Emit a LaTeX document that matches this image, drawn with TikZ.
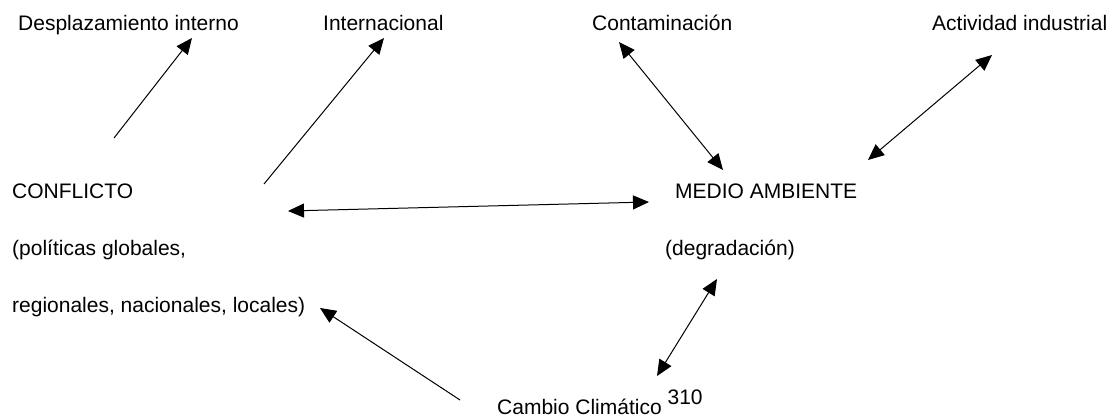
\documentclass[tikz,border=0pt]{standalone}
\usepackage{fontspec}
\setmainfont{Liberation Sans}
\usetikzlibrary{arrows.meta}

\begin{document}
\begin{tikzpicture}[x=1pt,y=-1pt,
	lbl/.style={anchor=base west,inner sep=0pt,font=\fontsize{21}{25}\selectfont},
	arr/.style={line width=1pt,-{Triangle[length=16pt,width=14pt]}},
	darr/.style={line width=1pt,{Triangle[length=16pt,width=14pt]}-{Triangle[length=16pt,width=14pt]}}]
					\useasboundingbox (0,0) rectangle (1112,419);
					% textos de arriba
					\node[lbl] (desp) at (18,31) {Desplazamiento interno};
					\node[lbl] (inter) at (323,31) {Internacional};
					\node[lbl] (contam) at (592,31) {Contaminación};
					\node[lbl] (activ) at (932,31) {Actividad industrial};
					% conflicto
					\node[lbl] (confl) at (12,199) {CONFLICTO};
					\node[lbl] (polit) at (12,256) {(políticas globales,};
					\node[lbl] (regio) at (12,313) {regionales, nacionales, locales)};
					% medio ambiente
					\node[lbl] (medio) at (675,199) {MEDIO AMBIENTE};
					\node[lbl] (degra) at (665,256) {(degradación)};
					\node[lbl] (clima) at (497,415) {Cambio Climático \raisebox{10pt}{310}};
					% extremos de las flechas
					\coordinate (desp-a) at (114,138);
					\coordinate (desp-b) at (192,38);
					\coordinate (inter-a) at (264,184);
					\coordinate (inter-b) at (384,38);
					\coordinate (confl-a) at (288,211);
					\coordinate (medio-a) at (649,202);
					\coordinate (contam-a) at (619,42);
					\coordinate (medio-b) at (723,170);
					\coordinate (activ-a) at (992,55);
					\coordinate (medio-c) at (868,160);
					\coordinate (degra-a) at (717,279);
					\coordinate (clima-a) at (657,376);
					\coordinate (clima-b) at (460,400);
					\coordinate (regio-a) at (320,308);
					% flechas
					\draw[arr] (desp-a) -- (desp-b);
					\draw[arr] (inter-a) -- (inter-b);
					\draw[darr] (confl-a) -- (medio-a);
					\draw[darr] (contam-a) -- (medio-b);
					\draw[darr] (activ-a) -- (medio-c);
					\draw[darr] (degra-a) -- (clima-a);
					\draw[arr] (clima-b) -- (regio-a);
				\end{tikzpicture}
\end{document}
